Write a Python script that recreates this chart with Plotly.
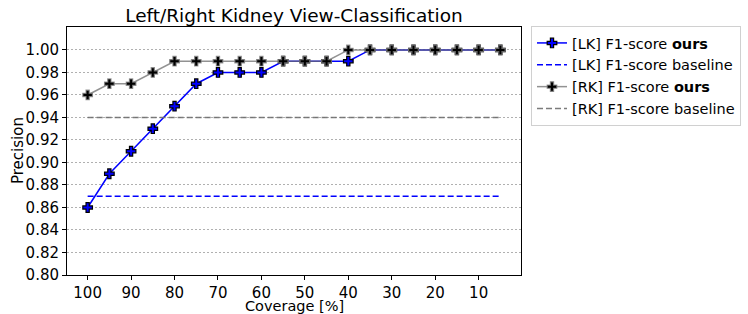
import plotly.graph_objects as go

coverage = [100, 95, 90, 85, 80, 75, 70, 65, 60, 55, 50, 45, 40, 35, 30, 25, 20, 15, 10, 5]
lk_ours = [0.86, 0.89, 0.91, 0.93, 0.95, 0.97, 0.98, 0.98, 0.98, 0.99, 0.99, 0.99, 0.99, 1.00, 1.00, 1.00, 1.00, 1.00, 1.00, 1.00]
rk_ours = [0.96, 0.97, 0.97, 0.98, 0.99, 0.99, 0.99, 0.99, 0.99, 0.99, 0.99, 0.99, 1.00, 1.00, 1.00, 1.00, 1.00, 1.00, 1.00, 1.00]
lk_baseline = 0.87
rk_baseline = 0.94
x_ticks = [100, 90, 80, 70, 60, 50, 40, 30, 20, 10]
y_ticks = [0.80, 0.82, 0.84, 0.86, 0.88, 0.90, 0.92, 0.94, 0.96, 0.98, 1.00]

FONT = "DejaVu Sans"
W, H = 748, 314
L, R, T, B = 67, 227, 27, 39

fig = go.Figure()
fig.add_trace(go.Scatter(
    x=coverage, y=lk_ours, mode="lines+markers", name="[LK] F1-score <b>ours</b>",
    line=dict(color="blue", width=1.5),
    marker=dict(symbol="cross", size=8, color="blue", line=dict(color="black", width=1.2)),
))
fig.add_trace(go.Scatter(
    x=[coverage[0], coverage[-1]], y=[lk_baseline, lk_baseline], mode="lines",
    name="[LK] F1-score baseline",
    line=dict(color="blue", width=1.5, dash="6px,3px"),
))
fig.add_trace(go.Scatter(
    x=coverage, y=rk_ours, mode="lines+markers", name="[RK] F1-score <b>ours</b>",
    line=dict(color="rgba(110,110,110,0.75)", width=1.5),
    marker=dict(symbol="cross", size=8, color="black", line=dict(color="rgba(128,128,128,0.8)", width=1.2)),
))
fig.add_trace(go.Scatter(
    x=[coverage[0], coverage[-1]], y=[rk_baseline, rk_baseline], mode="lines",
    name="[RK] F1-score baseline",
    line=dict(color="rgba(110,110,110,0.9)", width=1.5, dash="6px,3px"),
))

plot_h = H - T - B
plot_w = W - L - R
fig.update_layout(
    width=W, height=H,
    margin=dict(l=L, r=R, t=T, b=B, autoexpand=False),
    paper_bgcolor="white", plot_bgcolor="white",
    font=dict(family=FONT, size=15, color="black"),
    title=dict(text="Left/Right Kidney View-Classification", x=(L + W - R) / 2 / W, xanchor="center",
               y=1 - 16 / H, yanchor="middle", font=dict(size=18.5)),
    legend=dict(x=(531 - L) / plot_w, y=(H - B - 26) / plot_h, xanchor="left", yanchor="top",
                bordercolor="#d0d0d0", borderwidth=1, font=dict(size=14.5),
                tracegroupgap=0),
    showlegend=True,
    annotations=[
        dict(text="Coverage [%]", xref="paper", yref="paper", x=0.5, y=-(305.5 - (H - B)) / plot_h,
             xanchor="center", yanchor="middle", showarrow=False, borderpad=0, font=dict(size=14.5)),
        dict(text="Precision", xref="paper", yref="paper", x=-(L - 18) / plot_w, y=0.5,
             xanchor="center", yanchor="middle", textangle=-90, showarrow=False, font=dict(size=15)),
    ],
)
fig.update_xaxes(
    range=[104.75, 0.25], tickvals=x_ticks, ticks="outside", ticklen=4, tickcolor="black",
    showgrid=False, zeroline=False, showline=True, linecolor="black", linewidth=1, mirror=True,
    automargin=False,
)
fig.update_yaxes(
    range=[0.80, 1.0204], tickvals=y_ticks, tickformat=".2f", ticks="outside", ticklen=4, tickcolor="black",
    showgrid=True, gridcolor="#b0b0b0", griddash="2px,2px", gridwidth=0.8, zeroline=False,
    showline=True, linecolor="black", linewidth=1, mirror=True,
    automargin=False,
)

fig.write_html("out.html", config={"displayModeBar": False},
               post_script="document.body.style.margin='0';")
